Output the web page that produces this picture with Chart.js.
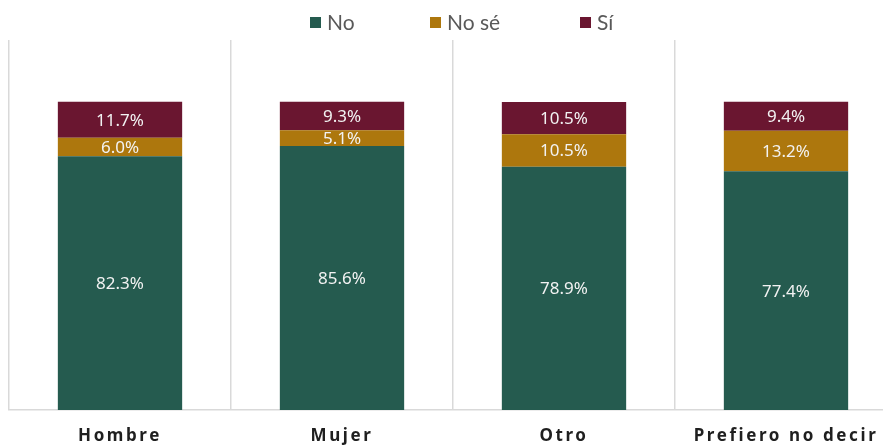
<!DOCTYPE html>
<html>
<head>
<meta charset="utf-8">
<script src="https://cdn.jsdelivr.net/npm/chart.js@4.4.0/dist/chart.umd.min.js"></script>
<style>
html, body { margin: 0; padding: 0; overflow: hidden; background: #fff; width: 883px; height: 445px; }
#wrap { position: relative; width: 900px; height: 445px; }
#legend { position: absolute; top: 0; left: 0; width: 883px; height: 40px; font-family: Lato, sans-serif; font-size: 21px; color: #595959; }
.item { position: absolute; top: 9px; display: flex; align-items: center; line-height: 26px; white-space: nowrap; }
.box { width: 11px; height: 11px; margin-right: 6px; }
</style>
</head>
<body>
<div id="wrap">
    <canvas id="Respuestas"></canvas>
    <div id="legend"></div>
</div>
<script>
var categorias = ["Hombre", "Mujer", "Otro", "Prefiero no decir"];
var series = ["No", "No sé", "Sí"];
var valoresNo = [82.3, 85.6, 78.9, 77.4];
var valoresNoSe = [6.0, 5.1, 10.5, 13.2];
var valoresSi = [11.7, 9.3, 10.5, 9.4];
var colores = ["#255B4F", "#AD770D", "#6A1630"];

// legend drawn as html above the chart
var legendLeft = [310, 430, 580];
var legend = document.getElementById("legend");
series.forEach(function (name, i) {
    var item = document.createElement("div");
    item.className = "item";
    item.style.left = legendLeft[i] + "px";
    item.innerHTML = '<span class="box" style="background:' + colores[i] + '"></span><span>' + name + '</span>';
    legend.appendChild(item);
});

var segLabels = {
    id: 'segLabels',
    afterDatasetsDraw: function (chart) {
        var ctx = chart.ctx;
        ctx.save();
        ctx.letterSpacing = '0px';
        ctx.font = '17px "Noto Sans"';
        ctx.fillStyle = '#f2f2f2';
        ctx.textAlign = 'center';
        ctx.textBaseline = 'middle';
        chart.data.datasets.forEach(function (ds, i) {
            chart.getDatasetMeta(i).data.forEach(function (bar, j) {
                ctx.fillText(ds.data[j].toFixed(1) + '%', bar.x, (bar.y + bar.base) / 2 + 1);
            });
        });
        ctx.restore();
    }
};

// spaced out category labels
var spacedTicks = {
    id: 'spacedTicks',
    beforeDraw: function (chart) { chart.ctx.letterSpacing = '2.6px'; },
    beforeDatasetsDraw: function (chart) { chart.ctx.letterSpacing = '0px'; }
};

var ctx = document.getElementById('Respuestas').getContext('2d');

var graphic = new Chart(ctx, {
    type: 'bar',
    data: {
        labels: categorias,
        datasets: [
            { label: series[0], data: valoresNo, backgroundColor: colores[0] },
            { label: series[1], data: valoresNoSe, backgroundColor: colores[1] },
            { label: series[2], data: valoresSi, backgroundColor: colores[2] }
        ]
    },
    options: {
        responsive: true,
        maintainAspectRatio: false,
        animation: false,
        layout: { padding: { top: 40, left: 9, right: 3, bottom: 0 } },
        datasets: { bar: { barPercentage: 1, categoryPercentage: 0.56, borderWidth: 0 } },
        plugins: {
            legend: { display: false },
            tooltip: { enabled: false }
        },
        scales: {
            x: {
                stacked: true,
                afterFit: function (scale) { scale.height = 35; },
                grid: { color: '#d9d9d9', lineWidth: 1.5, drawTicks: false },
                border: { color: '#d9d9d9', width: 1.5 },
                ticks: {
                    padding: 16,
                    color: '#1f1f1f',
                    font: { family: '"Noto Sans"', size: 17, weight: 'bold' }
                }
            },
            y: {
                stacked: true,
                display: false,
                min: 0,
                max: 120
            }
        }
    },
    plugins: [segLabels, spacedTicks]
});
</script>
</body>
</html>
